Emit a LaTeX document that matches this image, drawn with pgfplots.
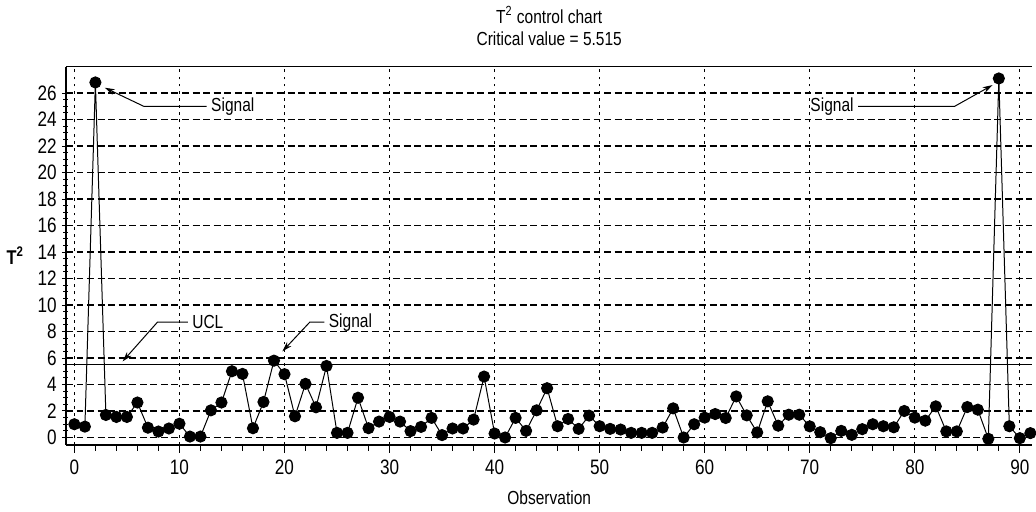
\documentclass[border=0pt]{standalone}
\usepackage{pgfplots}
\pgfplotsset{compat=1.18}
\usepackage{fontspec}
\setmainfont{Liberation Sans}[FakeStretch=0.82]
\usetikzlibrary{arrows.meta}

\pgfplotstableread{
x y
0 1.0
1 0.82
2 26.8
3 1.7
4 1.55
5 1.55
6 2.64
7 0.74
8 0.45
9 0.68
10 1.04
11 0.07
12 0.07
13 2.05
14 2.64
15 5.0
16 4.8
17 0.7
18 2.68
19 5.8
20 4.78
21 1.6
22 4.05
23 2.28
24 5.4
25 0.35
26 0.35
27 3.0
28 0.7
29 1.2
30 1.55
31 1.2
32 0.48
33 0.8
34 1.48
35 0.18
36 0.68
37 0.68
38 1.35
39 4.6
40 0.3
41 0.0
42 1.48
43 0.5
44 2.05
45 3.72
46 0.85
47 1.4
48 0.65
49 1.65
50 0.85
51 0.65
52 0.6
53 0.35
54 0.35
55 0.35
56 0.75
57 2.2
58 0.0
59 1.0
60 1.5
61 1.77
62 1.47
63 3.1
64 1.67
65 0.38
66 2.73
67 0.89
68 1.72
69 1.72
70 0.84
71 0.4
72 -0.05
73 0.5
74 0.2
75 0.63
76 1.0
77 0.85
78 0.77
79 2.0
80 1.5
81 1.27
82 2.35
83 0.46
84 0.46
85 2.3
86 2.1
87 -0.1
88 27.1
89 0.85
90 -0.05
91 0.33
}\tsq

\begin{document}
\begin{tikzpicture}[font=\fontsize{9.5}{11}\selectfont]
\begin{axis}[
    scale only axis,
    width=485.5pt, height=190pt,
    xmin=-0.8, xmax=91.2,
    ymin=-0.55, ymax=28,
    axis x line*=bottom, axis y line*=left,
    axis line style={-, line width=0.9pt},
    xtick={0,10,...,90}, ytick={0,2,...,26},
    minor x tick num=4, minor y tick num=3,
    xtick pos=bottom, ytick pos=left,
    tick style={black, line width=0.5pt},
    x tick style={/pgfplots/major tick length=4pt, /pgfplots/minor tick length=3pt},
    y tick style={/pgfplots/major tick length=4pt, /pgfplots/minor tick length=2.5pt},
    xtick align=outside, ytick align=center,
    /pgf/number format/assume math mode=true,
    ticklabel style={font=\fontsize{10.5}{11}\selectfont},
    yticklabel style={xshift=1pt},
    grid=major,
    x grid style={black, line width=0.55pt, dash pattern=on 1.4pt off 2.2pt},
    y grid style={black, line width=0.55pt, dash pattern=on 3.5pt off 1.8pt},
    title={T\textsuperscript{2} control chart\\Critical value = 5.515},
    title style={align=center, yshift=1pt},
    xlabel={Observation},
    xlabel style={yshift=-1pt},
    ylabel={T\textsuperscript{2}},
    ylabel style={rotate=-90, font=\bfseries\fontsize{10}{10}\selectfont},
]
\coordinate (bl) at (rel axis cs:0,0);
\coordinate (tr) at (rel axis cs:1,1);
\draw[line width=0.4pt] (rel axis cs:0,1) -- (rel axis cs:1,1);
\addplot[black, line width=0.5pt] coordinates {(-0.8,5.515) (91.2,5.515)};
\addplot[black, line width=0.5pt, mark=*, mark size=2.8pt,
    mark options={fill=black, solid}] table[x=x, y=y] {\tsq};
% annotations
\draw[-{Stealth[length=5pt,width=3pt]}, line width=0.5pt]
    (axis cs:12.6,25.0) -- (axis cs:6.6,25.0) -- (axis cs:2.9,26.4);
\node[anchor=west, inner sep=1pt] at (axis cs:12.8,25.0) {Signal};
\draw[-{Stealth[length=5pt,width=3pt]}, line width=0.5pt]
    (axis cs:10.8,8.7) -- (axis cs:7.9,8.7) -- (axis cs:4.6,5.75);
\node[anchor=west, inner sep=1pt] at (axis cs:11.0,8.7) {UCL};
\draw[-{Stealth[length=5pt,width=3pt]}, line width=0.5pt]
    (axis cs:23.8,8.7) -- (axis cs:22.4,8.7) -- (axis cs:19.8,6.5);
\node[anchor=west, inner sep=1pt] at (axis cs:24.0,8.7) {Signal};
\draw[-{Stealth[length=5pt,width=3pt]}, line width=0.5pt]
    (axis cs:74.6,25.0) -- (axis cs:83.8,25.0) -- (axis cs:87.4,26.6);
\node[anchor=east, inner sep=1pt] at (axis cs:74.4,25.0) {Signal};
\end{axis}
\path ([xshift=-32.5pt, yshift=-32.5pt]bl) rectangle ([yshift=32.5pt]tr);
\end{tikzpicture}
\end{document}
